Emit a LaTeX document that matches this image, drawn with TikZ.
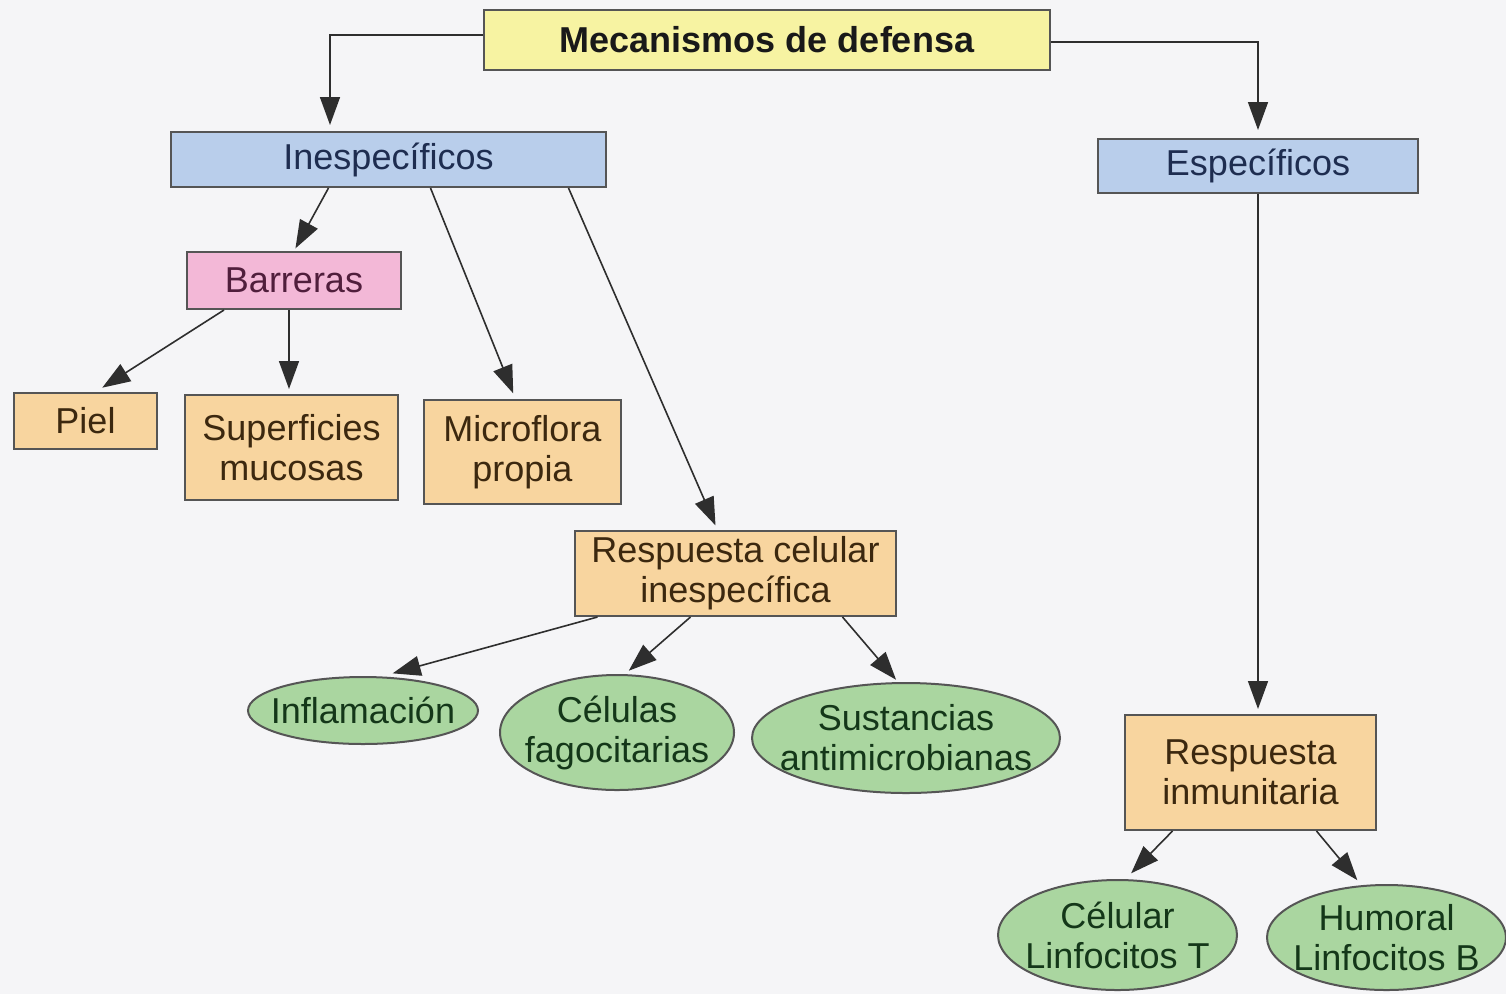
\documentclass[tikz,border=0pt]{standalone}
\usepackage{fontspec}
\setmainfont{Liberation Sans}
\usetikzlibrary{shapes.geometric,arrows.meta}
\definecolor{bgc}{HTML}{F5F5F7}
\definecolor{yel}{HTML}{F7F3A2}
\definecolor{blu}{HTML}{B9CEEB}
\definecolor{pnk}{HTML}{F3B8D7}
\definecolor{org}{HTML}{F8D59F}
\definecolor{grn}{HTML}{AAD6A0}
\definecolor{edg}{HTML}{555555}
\definecolor{lnc}{HTML}{2E2E2E}
\tikzset{
  base/.style={draw=edg, line width=2pt, inner sep=0pt, align=center,
    font=\fontsize{36}{40}\selectfont},
  rbox/.style={base, rectangle},
  ybox/.style={rbox, fill=yel, text=black!90, font=\fontsize{36}{40}\selectfont\bfseries},
  bbox/.style={rbox, fill=blu, text={rgb,255:red,30;green,45;blue,80}},
  pbox/.style={rbox, fill=pnk, text={rgb,255:red,80;green,30;blue,60}},
  obox/.style={rbox, fill=org, text={rgb,255:red,60;green,40;blue,15}},
  gell/.style={base, ellipse, inner xsep=-30pt, inner ysep=-10pt, fill=grn, text={rgb,255:red,20;green,55;blue,25}},
  arr/.style={draw=lnc, line width=1.6pt, -{Triangle[length=28pt,width=20pt]}},
}
\begin{document}
\begin{tikzpicture}[x=1pt,y=-1pt]
\useasboundingbox (0,0) rectangle (1506,994);
\fill[bgc] (0,0) rectangle (1506,994);

\node[ybox, minimum width=566pt, minimum height=60pt] (mec) at (767,40) {Mecanismos de defensa};
\node[bbox, minimum width=435pt, minimum height=55pt] (ines) at (388.5,159.5) {Inespecíficos};
\node[bbox, minimum width=320pt, minimum height=54pt] (esp) at (1258,166) {Específicos};
\node[pbox, minimum width=214pt, minimum height=57pt] (barr) at (294,280.5) {Barreras};
\node[obox, minimum width=143pt, minimum height=56pt] (piel) at (85.5,421) {Piel};
\node[obox, minimum width=213pt, minimum height=105pt] (sup) at (291.5,447.5) {Superficies\\mucosas};
\node[obox, minimum width=197pt, minimum height=104pt] (micro) at (522.5,452) {Microflora\\propia};
\node[obox, minimum width=321pt, minimum height=85pt] (rci) at (735.5,573.5) {Respuesta celular\\inespecífica};
\node[gell, minimum width=230pt, minimum height=67pt] (infl) at (363,710.5) {Inflamación};
\node[gell, minimum width=234pt, minimum height=115pt] (cel) at (617,732.5) {Células\\fagocitarias};
\node[gell, minimum width=308pt, minimum height=110pt] (sus) at (906,738) {Sustancias\\antimicrobianas};
\node[obox, minimum width=251pt, minimum height=115pt] (ri) at (1250.5,772.5) {Respuesta\\inmunitaria};
\node[gell, minimum width=239pt, minimum height=110pt] (celt) at (1117.5,935) {Célular\\Linfocitos T};
\node[gell, minimum width=239pt, minimum height=105pt] (hum) at (1386.5,937.5) {Humoral\\Linfocitos B};

\draw[arr, shorten >=6pt] ([yshift=5pt]mec.west) -| ([xshift=-58.5pt]ines.north);
\draw[arr, shorten >=8pt] ([yshift=-2pt]mec.east) -| (esp.north);
\draw[arr, shorten >=3pt] ([xshift=-60pt]ines.south) -- (barr.north);
\draw[arr, shorten >=6pt] ([xshift=42pt]ines.south) -- ([xshift=-7pt]micro.north);
\draw[arr, shorten >=5pt] ([xshift=180pt]ines.south) -- ([xshift=-18pt]rci.north);
\draw[arr, shorten >=8pt] ([xshift=-70pt]barr.south) -- ([xshift=10pt]piel.north);
\draw[arr, shorten >=5pt] ([xshift=-5pt]barr.south) -- ([xshift=-2.5pt]sup.north);
\draw[arr, shorten >=5pt] (esp.south) -- ([xshift=7.5pt]ri.north);
\draw[arr, shorten >=10pt] ([xshift=-138pt]rci.south) -- ([xshift=20pt]infl.north);
\draw[arr, shorten >=5pt] ([xshift=-45pt]rci.south) -- ([xshift=8pt]cel.north);
\draw[arr, shorten >=3pt] ([xshift=107pt]rci.south) -- ([xshift=-8pt]sus.north);
\draw[arr, shorten >=8pt] ([xshift=-78pt]ri.south) -- ([xshift=8pt]celt.north);
\draw[arr, shorten >=5pt] ([xshift=66pt]ri.south) -- ([xshift=-26pt]hum.north);
\end{tikzpicture}
\end{document}
